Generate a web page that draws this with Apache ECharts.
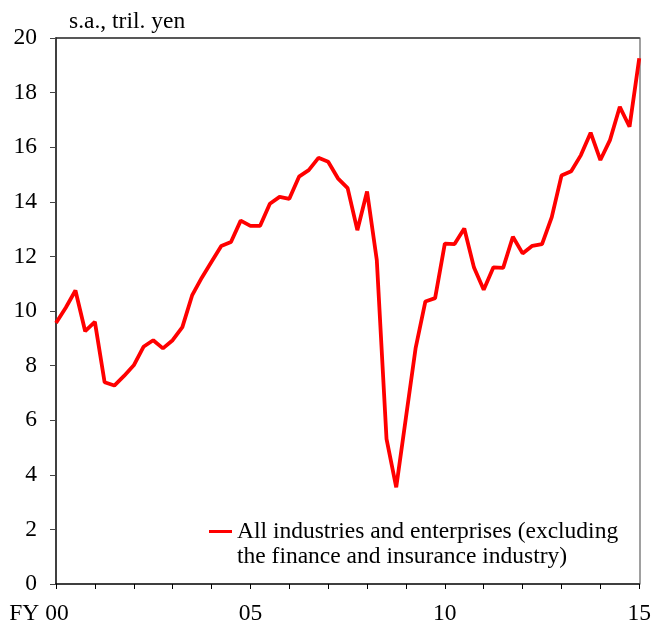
<!DOCTYPE html>
<html>
<head>
<meta charset="utf-8">
<script src="https://cdn.jsdelivr.net/npm/echarts@6/dist/echarts.min.js"></script>
<style>
html,body{margin:0;padding:0;background:#fff;}
#chart{width:654px;height:626px;}
</style>
</head>
<body>
<div id="chart"></div>
<script>
// Quarterly, FY2000 Q1 .. FY2015 Q1 (index 0..60)
var seriesName = 'All industries and enterprises (excluding\nthe finance and insurance industry)';
var unitLabel = 's.a., tril. yen';
var xTickLabels = {0: 'FY 00', 20: '05', 40: '10', 60: '15'};
var values = [
  9.56, 10.12, 10.75, 9.26, 9.60, 7.39, 7.27, 7.62,
  8.01, 8.69, 8.93, 8.63, 8.93, 9.41, 10.57, 11.22,
  11.80, 12.38, 12.53, 13.31, 13.12, 13.12, 13.93, 14.18,
  14.11, 14.92, 15.16, 15.61, 15.47, 14.86, 14.50, 12.96,
  14.38, 11.87, 5.32, 3.54, 6.10, 8.65, 10.35, 10.47,
  12.47, 12.45, 13.02, 11.59, 10.78, 11.60, 11.58, 12.72,
  12.11, 12.39, 12.45, 13.44, 14.96, 15.12, 15.71, 16.53,
  15.53, 16.27, 17.48, 16.75, 19.26
];

var FONT = 'Liberation Serif, Times New Roman, serif';
var FS = 23.5;
var data = values.map(function (v, i) { return [i, v]; });

var chart = echarts.init(document.getElementById('chart'), null, {renderer: 'canvas'});
chart.setOption({
  animation: false,
  backgroundColor: '#ffffff',
  title: {
    text: unitLabel, left: 69, top: 10, padding: 0,
    textStyle: {fontFamily: FONT, fontSize: FS, fontWeight: 'normal', color: '#000'}
  },
  grid: {left: 56, right: 14, top: 38, bottom: 38, containLabel: false},
  legend: {
    data: [{name: seriesName, icon: 'rect'}], left: 209, top: 494, padding: 0,
    itemWidth: 23, itemHeight: 3,
    formatter: function (name) { return ' \n' + name; },
    textStyle: {fontFamily: FONT, fontSize: FS, color: '#000', lineHeight: 25}
  },
  xAxis: [{
    type: 'value', min: 0, max: 60, interval: 4,
    axisLine: {show: true, onZero: false, lineStyle: {color: '#000', width: 1.5}},
    axisTick: {show: true, length: 5, lineStyle: {color: '#000', width: 1}},
    splitLine: {show: false},
    axisLabel: {
      margin: 18, color: '#000', fontFamily: FONT, fontSize: FS,
      showMinLabel: true, showMaxLabel: true,
      formatter: function (v) {
        if (v === 0) return '{t|' + xTickLabels[0] + '}{sp| }';
        return xTickLabels[v] !== undefined ? xTickLabels[v] : '';
      },
      rich: {
        t: {fontFamily: FONT, fontSize: FS, color: '#000'},
        sp: {width: 34, fontSize: FS}
      }
    }
  }, {
    type: 'value', min: 0, max: 60, position: 'top',
    axisLine: {show: true, onZero: false, lineStyle: {color: '#222', width: 1.5}},
    axisTick: {show: false}, axisLabel: {show: false}, splitLine: {show: false}
  }],
  yAxis: [{
    type: 'value', min: 0, max: 20, interval: 2,
    axisLine: {show: true, onZero: false, lineStyle: {color: '#000', width: 1.5}},
    axisTick: {show: true, length: 6, lineStyle: {color: '#444', width: 1}},
    splitLine: {show: false},
    axisLabel: {margin: 19, color: '#000', fontFamily: FONT, fontSize: FS, padding: [0, 0, 5, 0]}
  }, {
    type: 'value', min: 0, max: 20, position: 'right',
    axisLine: {show: true, onZero: false, lineStyle: {color: '#808080', width: 1.5}},
    axisTick: {show: false}, axisLabel: {show: false}, splitLine: {show: false}
  }],
  series: [{
    name: seriesName, type: 'line', data: data,
    symbol: 'none', color: '#ff0000',
    lineStyle: {color: '#ff0000', width: 3.8}
  }]
});
</script>
</body>
</html>
